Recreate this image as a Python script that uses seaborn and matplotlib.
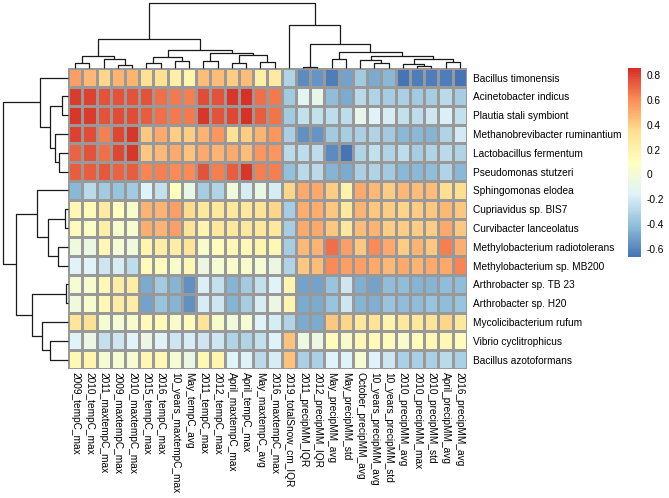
import numpy as np
import pandas as pd
import matplotlib
matplotlib.use('Agg')
import matplotlib.pyplot as plt
import seaborn as sns
from matplotlib.colors import LinearSegmentedColormap

# row / column labels in the clustered order
species = ['Bacillus timonensis', 'Acinetobacter indicus', 'Plautia stali symbiont',
           'Methanobrevibacter ruminantium', 'Lactobacillus fermentum', 'Pseudomonas stutzeri',
           'Sphingomonas elodea', 'Cupriavidus sp. BIS7', 'Curvibacter lanceolatus',
           'Methylobacterium radiotolerans', 'Methylobacterium sp. MB200', 'Arthrobacter sp. TB 23',
           'Arthrobacter sp. H20', 'Mycolicibacterium rufum', 'Vibrio cyclitrophicus',
           'Bacillus azotoformans']

temp_vars = ['2009_tempC_max', '2010_tempC_max', '2011_maxtempC_max', '2009_maxtempC_max',
             '2010_maxtempC_max', '2015_tempC_max', '2016_tempC_max', '10_years_maxtempC_max',
             'May_tempC_avg', '2011_tempC_max', '2012_tempC_max', 'April_maxtempC_max',
             'April_tempC_max', 'May_maxtempC_avg', '2016_maxtempC_max']
snow_vars = ['2019_totalSnow_cm_IQR']
precip_vars = ['2011_precipMM_IQR', '2012_precipMM_IQR', 'May_precipMM_avg', 'May_precipMM_std',
               'October_precipMM_avg', '10_years_precipMM_avg', '10_years_precipMM_std',
               '2010_precipMM_avg', '2010_precipMM_max', '2010_precipMM_std',
               'April_precipMM_avg', '2016_precipMM_avg']

# correlation values, one row per species
temp_corr = [
    [0.55, 0.47, 0.38, 0.48, 0.48, 0.33, 0.33, 0.22, 0.18, 0.45, 0.45, 0.40, 0.45, 0.22, 0.25],
    [0.82, 0.80, 0.75, 0.75, 0.76, 0.76, 0.68, 0.65, 0.63, 0.77, 0.75, 0.84, 0.856, 0.68, 0.65],
    [0.84, 0.82, 0.75, 0.77, 0.77, 0.73, 0.68, 0.65, 0.65, 0.84, 0.75, 0.78, 0.85, 0.73, 0.66],
    [0.80, 0.77, 0.64, 0.79, 0.83, 0.43, 0.52, 0.40, 0.40, 0.49, 0.58, 0.33, 0.40, 0.49, 0.58],
    [0.71, 0.75, 0.68, 0.79, 0.84, 0.43, 0.47, 0.52, 0.44, 0.52, 0.49, 0.52, 0.45, 0.58, 0.58],
    [0.73, 0.72, 0.74, 0.71, 0.72, 0.62, 0.64, 0.60, 0.60, 0.75, 0.64, 0.72, 0.83, 0.63, 0.64],
    [-0.43, -0.28, -0.35, -0.38, -0.35, -0.15, -0.24, 0.10, -0.08, -0.33, -0.30, -0.04, -0.18, -0.08, -0.18],
    [0.15, 0.13, 0.26, 0.10, 0.05, 0.48, 0.48, 0.55, 0.36, 0.28, 0.28, 0.28, 0.28, 0.32, 0.37],
    [0.12, 0.06, 0.22, 0.05, 0.02, 0.50, 0.49, 0.55, 0.32, 0.18, 0.28, 0.28, 0.28, 0.28, 0.28],
    [-0.03, -0.07, 0.15, 0.01, -0.03, 0.18, 0.24, 0.24, 0.32, 0.04, 0.12, 0.15, 0.15, 0.18, 0.15],
    [-0.16, -0.16, -0.22, -0.19, -0.26, 0.12, 0.12, 0.04, 0.15, -0.07, 0.01, 0.04, 0.04, 0.01, -0.07],
    [0.01, 0.02, 0.15, 0.24, 0.24, -0.47, -0.35, -0.44, -0.56, -0.17, -0.24, -0.44, -0.35, -0.24, -0.16],
    [-0.03, 0.03, 0.15, 0.24, 0.24, -0.51, -0.38, -0.44, -0.56, -0.19, -0.22, -0.44, -0.33, -0.19, -0.07],
    [0.30, 0.33, 0.01, 0.01, 0.04, 0.12, 0.13, 0.04, 0.12, 0.32, 0.04, -0.03, 0.01, -0.16, -0.19],
    [-0.16, -0.07, -0.24, -0.22, -0.16, -0.07, -0.16, -0.22, -0.19, -0.22, -0.22, -0.30, -0.30, -0.24, -0.16],
    [0.15, 0.18, 0.01, 0.01, 0.01, 0.15, 0.15, 0.01, -0.07, 0.15, 0.18, -0.16, -0.16, -0.28, -0.19],
]
snow_corr = [-0.30, -0.36, -0.36, -0.32, -0.28, -0.40, 0.38, -0.33, -0.33, -0.33,
             -0.30, 0.18, 0.18, -0.30, 0.44, 0.44]
precip_corr = [
    [-0.58, -0.55, -0.62, -0.50, -0.35, -0.47, -0.43, -0.66, -0.63, -0.63, -0.62, -0.664],
    [-0.12, -0.10, -0.42, -0.48, -0.27, -0.30, -0.33, -0.32, -0.36, -0.34, -0.27, -0.33],
    [-0.24, -0.24, -0.26, -0.26, -0.10, -0.16, -0.18, -0.24, -0.26, -0.22, -0.17, -0.25],
    [-0.57, -0.55, -0.36, -0.33, -0.32, -0.30, -0.35, -0.43, -0.43, -0.45, -0.30, -0.20],
    [-0.26, -0.26, -0.58, -0.664, -0.30, -0.25, -0.30, -0.26, -0.33, -0.30, -0.27, -0.30],
    [-0.28, -0.28, -0.45, -0.47, -0.32, -0.30, -0.35, -0.43, -0.43, -0.42, -0.30, -0.43],
    [0.52, 0.52, 0.40, 0.20, 0.52, 0.47, 0.40, 0.47, 0.45, 0.45, 0.35, 0.35],
    [0.50, 0.50, 0.43, 0.28, 0.49, 0.43, 0.40, 0.37, 0.40, 0.43, 0.47, 0.43],
    [0.52, 0.52, 0.43, 0.28, 0.45, 0.49, 0.40, 0.40, 0.40, 0.40, 0.52, 0.43],
    [0.47, 0.49, 0.68, 0.55, 0.43, 0.60, 0.52, 0.40, 0.49, 0.43, 0.63, 0.50],
    [0.43, 0.45, 0.60, 0.55, 0.55, 0.52, 0.47, 0.52, 0.49, 0.52, 0.52, 0.62],
    [-0.51, -0.51, -0.38, -0.22, -0.46, -0.51, -0.42, -0.42, -0.44, -0.44, -0.42, -0.42],
    [-0.47, -0.47, -0.38, -0.22, -0.44, -0.46, -0.38, -0.42, -0.42, -0.38, -0.42, -0.38],
    [-0.47, -0.47, 0.43, 0.37, 0.28, 0.32, 0.18, 0.28, 0.28, 0.32, 0.37, 0.28],
    [-0.05, -0.05, 0.12, 0.04, 0.15, 0.13, 0.12, 0.04, 0.12, 0.15, 0.15, 0.12],
    [-0.32, -0.32, -0.16, -0.16, 0.01, -0.16, -0.22, -0.32, -0.32, -0.32, -0.28, -0.32],
]

# dendrogram merges: (child a, child b, height); leaves are 0..n-1, new nodes get n, n+1, ...
col_merges = [(0, 1, 17), (3, 4, 10), (2, 29, 27), (28, 30, 39), (5, 6, 17), (7, 8, 22),
              (32, 33, 34), (9, 10, 22), (11, 12, 17), (13, 14, 19), (36, 37, 40), (35, 38, 47),
              (34, 39, 55), (31, 40, 91), (16, 17, 4), (18, 19, 29), (21, 22, 17), (20, 44, 24),
              (24, 25, 7), (23, 46, 14), (26, 27, 20), (47, 48, 29), (45, 49, 37), (43, 50, 50),
              (42, 51, 74), (15, 52, 132), (41, 53, 199)]
row_merges = [(1, 2, 19), (4, 5, 27), (3, 17, 40), (16, 18, 53), (0, 19, 83), (7, 8, 8),
              (9, 10, 30), (21, 22, 60), (6, 23, 93), (11, 12, 5), (14, 15, 55), (13, 26, 77),
              (25, 27, 110), (24, 28, 158), (20, 29, 197)]

cbar_ticks = [0.8, 0.6, 0.4, 0.2, 0.0, -0.2, -0.4, -0.6]
cbar_labels = ['0.8', '0.6', '0.4', '0.2', '0', '-0.2', '-0.4', '-0.6']
vmin, vmax = -0.664, 0.856

# pheatmap default palette (reversed RdYlBu, 100 steps)
cmap = LinearSegmentedColormap.from_list(
    'rdylbu', ['#4575B4', '#91BFDB', '#E0F3F8', '#FFFFBF', '#FEE090', '#FC8D59', '#D73027'], N=100)

data = pd.DataFrame(np.hstack([np.array(temp_corr), np.array(snow_corr)[:, None], np.array(precip_corr)]),
                    index=species, columns=temp_vars + snow_vars + precip_vars)

plt.rcParams['font.family'] = ['Liberation Sans', 'DejaVu Sans']
W, H = 669, 498
fig = plt.figure(figsize=(W / 100, H / 100), dpi=100)


def box(x0, y0, x1, y1):
    return [x0 / W, 1 - y1 / H, (x1 - x0) / W, (y1 - y0) / H]


hx0, hx1, hy0, hy1 = 68, 467, 68.3, 369
ax = fig.add_axes(box(hx0, hy0, hx1, hy1))
cax = fig.add_axes(box(628, 68, 641, 257))

sns.heatmap(data, ax=ax, cmap=cmap, vmin=vmin, vmax=vmax, linewidths=0.75, linecolor='#999999',
            cbar_ax=cax, xticklabels=True, yticklabels=True)

ax.yaxis.tick_right()
ax.set_yticklabels(species, rotation=0, ha='left', fontsize=7.3)
ax.set_xticklabels(data.columns, rotation=270, ha='center', va='top', fontsize=7.3)
ax.tick_params(axis='both', length=0)
ax.tick_params(axis='y', pad=4)
ax.tick_params(axis='x', pad=2)
ax.set_xlabel('')
ax.set_ylabel('')

cb = ax.collections[0].colorbar
cb.set_ticks(cbar_ticks)
cb.set_ticklabels(cbar_labels)
cb.outline.set_visible(False)
cax.tick_params(length=0, labelsize=7.3, pad=4)


def draw_tree(tax, merges, n, top):
    pos = {i: i + 0.5 for i in range(n)}
    hgt = {i: 0.0 for i in range(n)}
    for k, (a, b, h) in enumerate(merges):
        xs = [pos[a], pos[a], pos[b], pos[b]]
        hs = [hgt[a], h, h, hgt[b]]
        if top:
            tax.plot(xs, hs, color='#1a1a1a', lw=0.9, clip_on=False, solid_capstyle='butt')
        else:
            tax.plot(hs, xs, color='#1a1a1a', lw=0.9, clip_on=False, solid_capstyle='butt')
        pos[n + k] = (pos[a] + pos[b]) / 2
        hgt[n + k] = h


# column dendrogram
dax = fig.add_axes(box(hx0, 3.4, hx1, hy0))
draw_tree(dax, col_merges, data.shape[1], True)
dax.set_xlim(0, data.shape[1])
dax.set_ylim(0, col_merges[-1][2])
dax.axis('off')

# row dendrogram
rax = fig.add_axes(box(2.7, hy0, hx0, hy1))
draw_tree(rax, row_merges, data.shape[0], False)
rax.set_ylim(data.shape[0], 0)
rax.set_xlim(row_merges[-1][2], 0)
rax.axis('off')

fig.savefig('out.png', dpi=100)
